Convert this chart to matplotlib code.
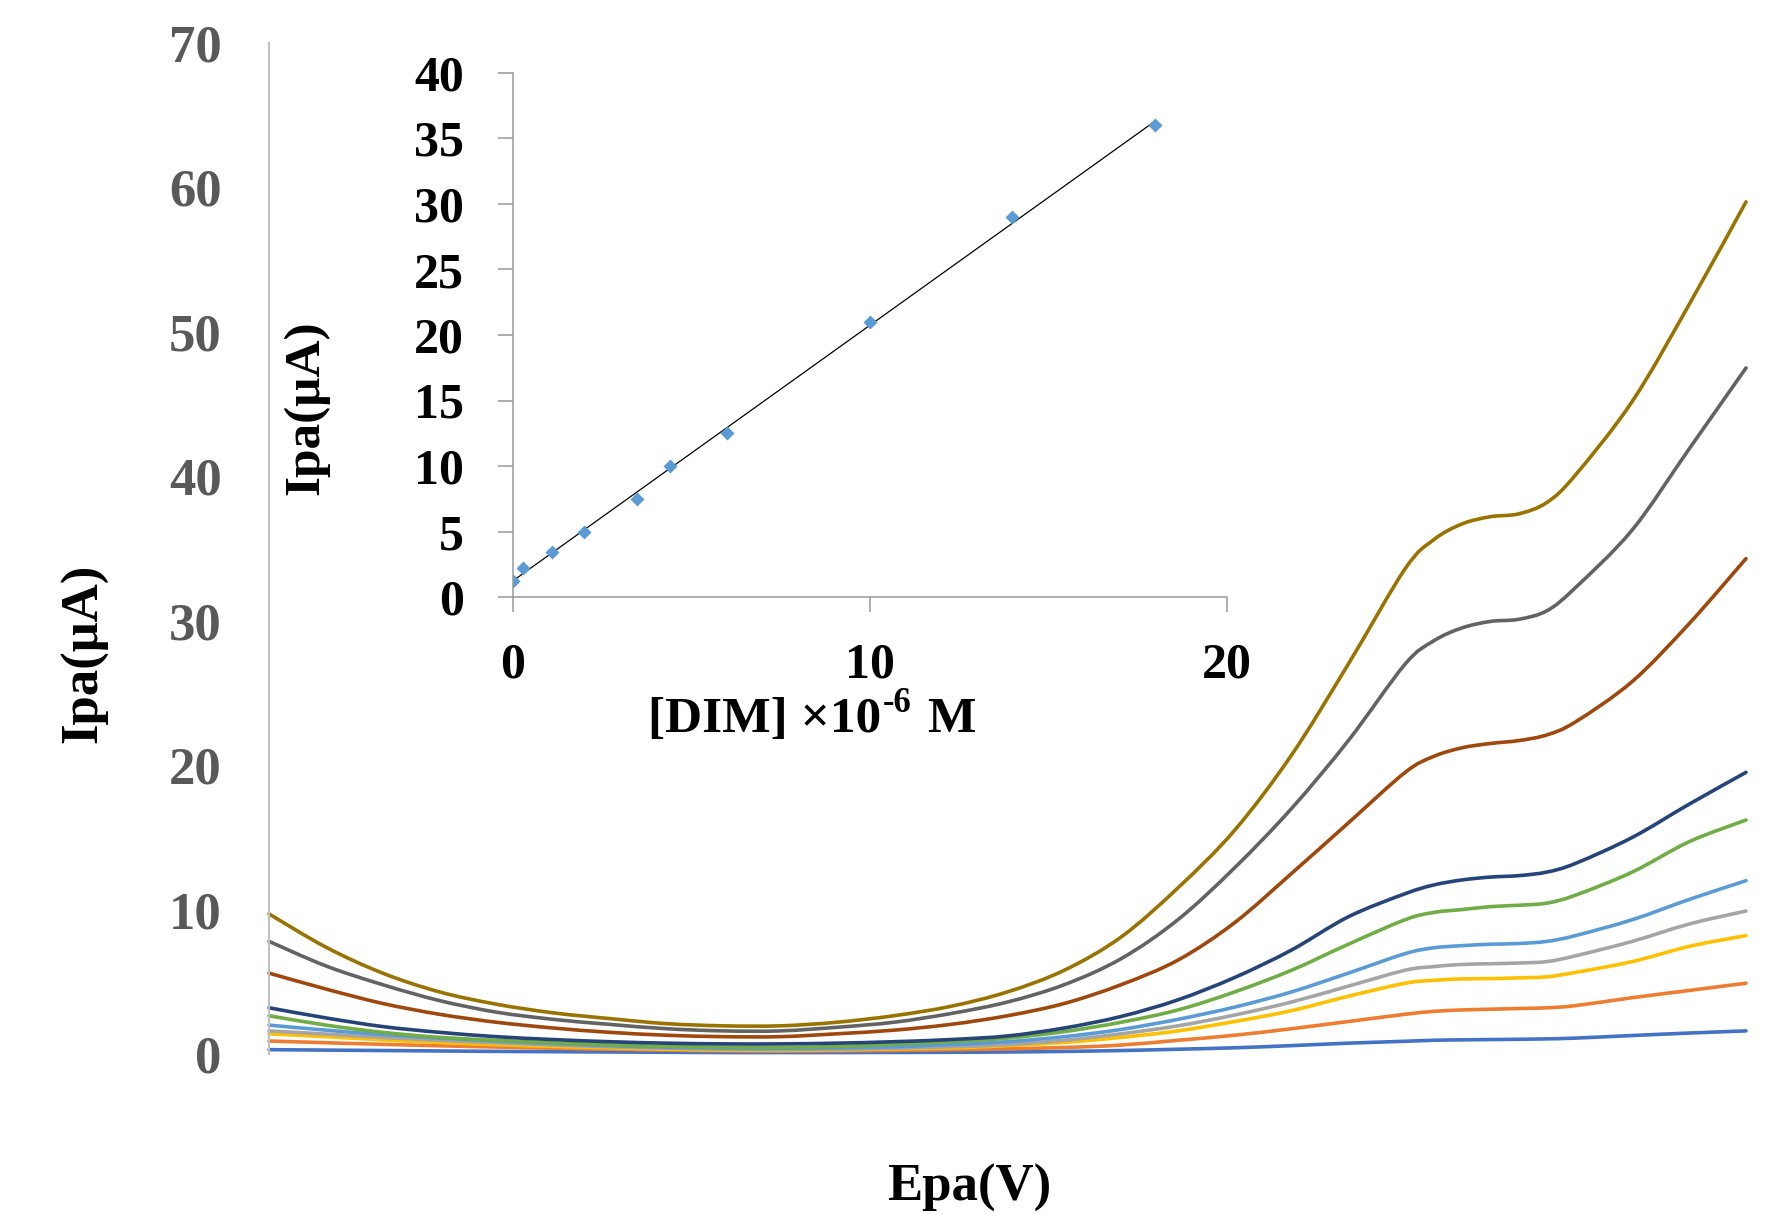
import numpy as np
import matplotlib
matplotlib.use("Agg")
import matplotlib.pyplot as plt
from matplotlib.path import Path
from matplotlib.patches import PathPatch

plt.rcParams['font.family'] = ['Liberation Serif', 'DejaVu Serif']
plt.rcParams['font.weight'] = 'bold'

# ---- voltammograms (x axis has no labels) ----
epa = [0.00, 0.05, 0.10, 0.15, 0.20, 0.25, 0.30, 0.35, 0.40, 0.45,
       0.50, 0.55, 0.60, 0.65, 0.70, 0.75, 0.80, 0.85, 0.90, 0.95,
       1.00, 1.025, 1.05, 1.075, 1.10, 1.125, 1.15, 1.20, 1.25, 1.30]

ipa_1 = [0.30, 0.27, 0.24, 0.21, 0.18, 0.16, 0.14, 0.12, 0.10, 0.10,
         0.10, 0.11, 0.12, 0.14, 0.18, 0.24, 0.33, 0.43, 0.58, 0.75,
         0.88, 0.95, 0.98, 1.00, 1.02, 1.05, 1.10, 1.28, 1.45, 1.60]
ipa_2 = [0.90, 0.78, 0.67, 0.57, 0.48, 0.40, 0.33, 0.27, 0.22, 0.20,
         0.22, 0.25, 0.30, 0.36, 0.45, 0.62, 0.95, 1.30, 1.75, 2.25,
         2.75, 2.95, 3.05, 3.10, 3.15, 3.20, 3.35, 3.90, 4.40, 4.90]
ipa_3 = [1.40, 1.20, 0.98, 0.80, 0.65, 0.52, 0.42, 0.33, 0.27, 0.25,
         0.28, 0.35, 0.42, 0.58, 0.80, 1.15, 1.60, 2.25, 3.00, 4.00,
         4.90, 5.10, 5.20, 5.22, 5.27, 5.35, 5.65, 6.40, 7.45, 8.20]
ipa_4 = [1.60, 1.38, 1.15, 0.95, 0.78, 0.63, 0.50, 0.40, 0.33, 0.30,
         0.33, 0.40, 0.50, 0.65, 0.95, 1.40, 1.95, 2.70, 3.60, 4.70,
         5.80, 6.05, 6.20, 6.25, 6.30, 6.40, 6.80, 7.80, 9.00, 9.90]
ipa_5 = [2.00, 1.65, 1.35, 1.10, 0.90, 0.72, 0.58, 0.47, 0.40, 0.38,
         0.42, 0.50, 0.65, 0.85, 1.20, 1.70, 2.40, 3.25, 4.30, 5.60,
         6.95, 7.35, 7.50, 7.60, 7.65, 7.80, 8.20, 9.30, 10.7, 12.0]
ipa_6 = [2.65, 2.00, 1.50, 1.15, 0.95, 0.77, 0.63, 0.53, 0.47, 0.45,
         0.52, 0.68, 0.85, 1.10, 1.55, 2.20, 3.05, 4.30, 5.80, 7.60,
         9.30, 9.80, 10.0, 10.2, 10.3, 10.45, 11.0, 12.6, 14.7, 16.2]
ipa_7 = [3.20, 2.50, 1.90, 1.50, 1.20, 1.00, 0.85, 0.75, 0.70, 0.70,
         0.75, 0.85, 1.00, 1.25, 1.80, 2.60, 3.75, 5.30, 7.20, 9.50,
         11.1, 11.7, 12.05, 12.25, 12.35, 12.6, 13.2, 15.0, 17.3, 19.5]
ipa_8 = [5.60, 4.50, 3.50, 2.75, 2.20, 1.80, 1.50, 1.30, 1.20, 1.20,
         1.40, 1.65, 2.05, 2.65, 3.50, 4.80, 6.50, 9.10, 12.5, 16.0,
         19.5, 20.6, 21.2, 21.5, 21.7, 22.1, 23.0, 25.8, 29.8, 34.3]
ipa_9 = [7.80, 6.10, 4.80, 3.70, 2.90, 2.40, 2.05, 1.75, 1.60, 1.60,
         1.85, 2.20, 2.80, 3.60, 4.80, 6.60, 9.30, 12.9, 17.0, 21.7,
         27.0, 28.6, 29.5, 29.95, 30.1, 30.7, 32.3, 36.3, 41.9, 47.5]
ipa_10 = [9.70, 7.40, 5.60, 4.30, 3.45, 2.85, 2.45, 2.10, 1.95, 1.95,
          2.20, 2.65, 3.30, 4.30, 5.80, 8.10, 11.5, 15.5, 20.7, 27.0,
          33.6, 35.6, 36.7, 37.2, 37.4, 38.2, 40.1, 45.2, 51.9, 59.0]

curves = [ipa_1, ipa_2, ipa_3, ipa_4, ipa_5, ipa_6, ipa_7, ipa_8, ipa_9, ipa_10]
colors = ['#4472C4', '#ED7D31', '#FFC000', '#A5A5A5', '#5B9BD5',
          '#70AD47', '#264478', '#9E480E', '#636363', '#997300']

# ---- calibration inset ----
conc = [0, 0.3, 1.1, 2, 3.5, 4.4, 6, 10, 14, 18]
peak = [1.2, 2.2, 3.4, 5.0, 7.5, 10.0, 12.5, 21.0, 29.0, 36.0]

main_ticks = [0, 10, 20, 30, 40, 50, 60, 70]
inset_yticks = [0, 5, 10, 15, 20, 25, 30, 35, 40]
inset_xticks = [0, 10, 20]


def smooth_path(x, y):
    # smoothed line through the points, like the spreadsheet's "smoothed line"
    pts = np.column_stack([x, y])
    n = len(pts)
    verts = [pts[0]]
    codes = [Path.MOVETO]
    for i in range(n - 1):
        p0 = pts[max(i - 1, 0)]
        p1 = pts[i]
        p2 = pts[i + 1]
        p3 = pts[min(i + 2, n - 1)]
        verts += [p1 + (p2 - p0) / 6, p2 - (p3 - p1) / 6, p2]
        codes += [Path.CURVE4] * 3
    return Path(verts, codes)


W, H = 1766, 1215
fig = plt.figure(figsize=(W / 100, H / 100), dpi=100)

ax = fig.add_axes([269 / W, 1 - 1054 / H, 1477 / W, 1011 / H])
for y, c in zip(curves, colors):
    ax.add_patch(PathPatch(smooth_path(epa, y), fill=False, edgecolor=c, lw=2.6,
                           capstyle='round', joinstyle='round', clip_on=False))
ax.set_xlim(epa[0], epa[-1])
ax.set_ylim(0, 70)
ax.set_yticks(main_ticks)
ax.set_xticks([])
ax.tick_params(axis='y', length=0, pad=34, labelsize=38, labelcolor='#595959')
for s in ['top', 'right', 'bottom']:
    ax.spines[s].set_visible(False)
ax.spines['left'].set_color('#C0C0C0')
ax.spines['left'].set_linewidth(1.5)
for lab in ax.get_yticklabels():
    lab.set_fontweight('bold')

fig.text(84 / W, 1 - 653 / H, 'Ipa(μA)', rotation=90, ha='center', va='center',
         fontsize=38, fontweight='bold', color='black')
fig.text(969 / W, 1 - 1188 / H, 'Epa(V)', ha='center', va='center',
         fontsize=38, fontweight='bold', color='black')

# inset
ins = fig.add_axes([512.5 / W, 1 - 597 / H, 714 / W, 524 / H])
ins.patch.set_alpha(0)
k, b = np.polyfit(conc, peak, 1)
xs = np.array([conc[0], conc[-1]])
ins.plot(xs, k * xs + b, color='black', lw=0.9)
ins.plot(conc, peak, linestyle='none', marker='D', ms=7, color='#5B9BD5', mec='none')
ins.set_xlim(0, 20)
ins.set_ylim(0, 40)
ins.set_xticks(inset_xticks)
ins.set_yticks(inset_yticks)
for s in ['top', 'right']:
    ins.spines[s].set_visible(False)
for s in ['left', 'bottom']:
    ins.spines[s].set_color('#999999')
    ins.spines[s].set_linewidth(1.1)
ins.tick_params(axis='both', length=11, width=1.1, color='#999999', labelsize=36,
                labelcolor='black')
ins.tick_params(axis='y', pad=24)
ins.tick_params(axis='x', pad=22)
for lab in ins.get_xticklabels() + ins.get_yticklabels():
    lab.set_fontweight('bold')

ins.text(-0.289, 0.361, 'Ipa(μA)', transform=ins.transAxes, rotation=90,
         ha='center', va='center', fontsize=37, fontweight='bold')

# x label of the inset with a plain-hyphen superscript
renderer = fig.canvas.get_renderer()
base_y = 1 - 732 / H
t1 = fig.text(648 / W, base_y, '[DIM] ×10', ha='left', va='baseline',
              fontsize=37, fontweight='bold')
x_end = t1.get_window_extent(renderer).x1
t2 = fig.text((x_end + 2) / W, base_y + 20 / H, '-6', ha='left', va='baseline',
              fontsize=25, fontweight='bold')
x_end = t2.get_window_extent(renderer).x1
fig.text((x_end + 15) / W, base_y, 'M', ha='left', va='baseline',
         fontsize=37, fontweight='bold')

fig.savefig('out.png', dpi=100)
